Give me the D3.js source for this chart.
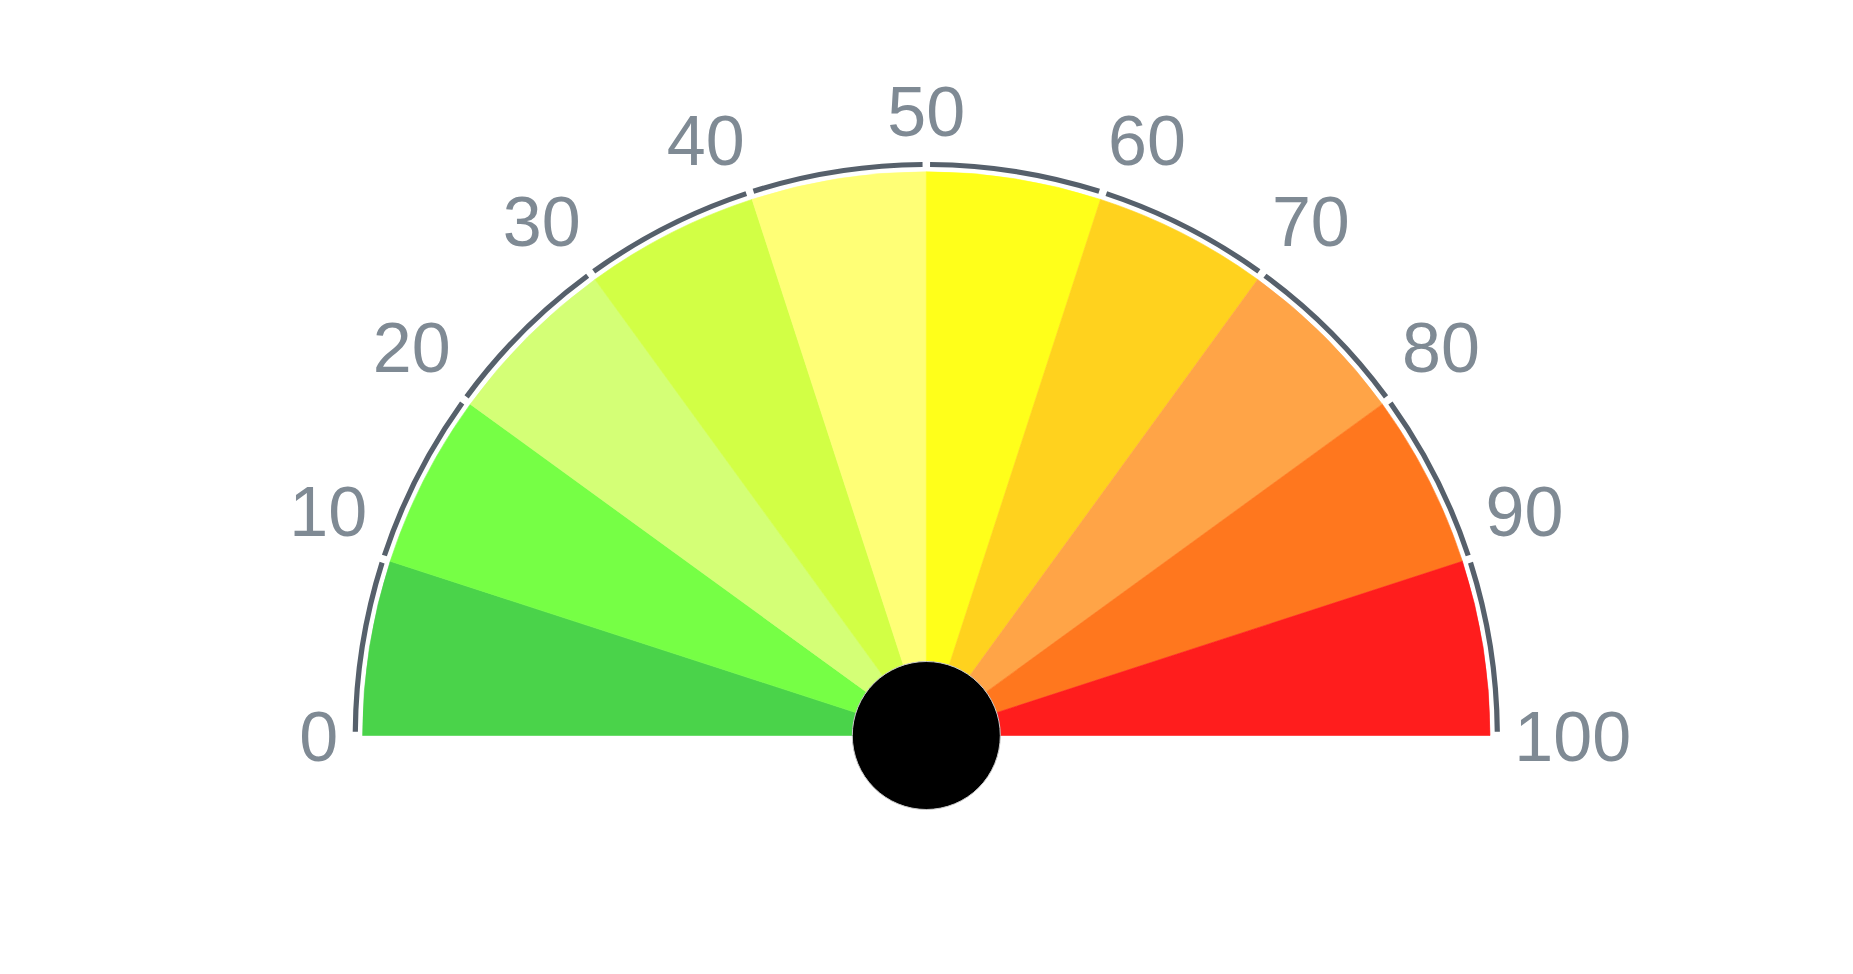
<!DOCTYPE html>
<html>
<head>
<meta charset="utf-8">
<script src="https://cdn.jsdelivr.net/npm/d3@7"></script>
<style>body{margin:0;background:#fff;overflow:hidden}</style>
</head>
<body>
<svg id="chart" width="1853" height="974"></svg>
<script>
// ---- data ----
const bandStarts = [0, 10, 20, 30, 40, 50, 60, 70, 80, 90];
const bandEnds   = [10, 20, 30, 40, 50, 60, 70, 80, 90, 100];
const bandColors = ["#4ad34a", "#76ff45", "#d4ff76", "#d2ff45", "#ffff76",
                    "#ffff1a", "#ffd21e", "#ffa447", "#ff771e", "#ff1d1d"];
const tickValues = [0, 10, 20, 30, 40, 50, 60, 70, 80, 90, 100];
const tickLabels = ["0", "10", "20", "30", "40", "50", "60", "70", "80", "90", "100"];
const gaugeMin = 0, gaugeMax = 100;

// ---- layout ----
const cx = 926.3, cy = 735.5;
const rBand = 563.7, rAxis = 571, axisW = 5.2, hubR = 74;
const fontSize = 70, labelR = 588;

const svg = d3.select("#chart");
const g = svg.append("g").attr("transform", `translate(${cx},${cy})`);
const ang = d3.scaleLinear().domain([gaugeMin, gaugeMax]).range([-Math.PI / 2, Math.PI / 2]);
const arc = d3.arc();

// bands
g.selectAll("path.band")
  .data(bandStarts.map((s, i) => ({s, e: bandEnds[i], c: bandColors[i]})))
  .join("path")
  .attr("class", "band")
  .attr("d", d => arc({innerRadius: 0, outerRadius: rBand, startAngle: ang(d.s), endAngle: ang(d.e)}))
  .attr("fill", d => d.c)
  .attr("stroke", d => d.c)
  .attr("stroke-width", 0.6);

// axis line, broken at every tick
const gap = 7.5 / rAxis;
const segs = d3.pairs(tickValues);
g.selectAll("path.axis")
  .data(segs)
  .join("path")
  .attr("class", "axis")
  .attr("d", d => arc({innerRadius: rAxis - axisW / 2, outerRadius: rAxis + axisW / 2,
                       startAngle: ang(d[0]) + gap / 2, endAngle: ang(d[1]) - gap / 2}))
  .attr("fill", "#56606b");

// tick labels
const labels = g.selectAll("text.tick")
  .data(tickValues.map((v, i) => ({v, t: tickLabels[i]})))
  .join("text")
  .attr("class", "tick")
  .attr("font-family", "'Liberation Sans', Arial, sans-serif")
  .attr("font-size", fontSize)
  .attr("fill", "#7f8a94")
  .text(d => d.t);

labels.each(function(d) {
  const a = ang(d.v);            // 0 at top, clockwise
  const s = Math.cos(a);         // upward component
  const c = Math.sin(a);         // horizontal component
  const mid = Math.abs(c) < 0.1;
  const anchor = mid ? "middle" : (c > 0 ? "start" : "end");
  const x = mid ? 0 : c * labelR;
  let yc = -s * 624.5;
  if (s > 0.01) yc -= 36 * Math.pow(Math.abs(c), 2.5);
  const baseline = yc + 0.358 * fontSize;
  d3.select(this).attr("text-anchor", anchor).attr("x", x).attr("y", baseline);
});

// hub
g.append("circle")
  .attr("r", hubR)
  .attr("fill", "#000")
  .attr("stroke", "#c8c8c8")
  .attr("stroke-width", 1);
</script>
</body>
</html>
